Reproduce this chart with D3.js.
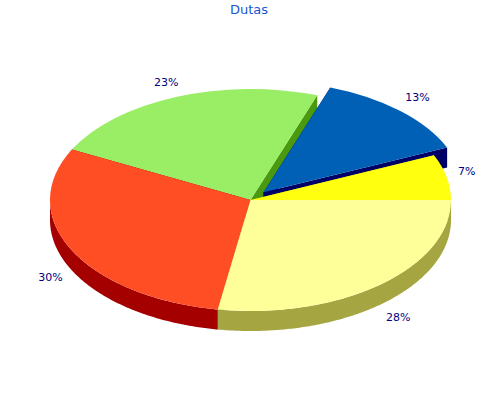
<!DOCTYPE html>
<html>
<head>
<meta charset="utf-8">
<script src="https://cdn.jsdelivr.net/npm/d3@7"></script>
<style>
  html, body { margin: 0; padding: 0; background: #fff; }
  svg { display: block; }
  text { font-family: "DejaVu Sans", sans-serif; }
</style>
</head>
<body>
<svg width="500" height="400"></svg>
<script>
const title = "Dutas";
const values = [6.6, 13.0, 22.9, 29.9, 27.6];
const labels = ["7%", "13%", "23%", "30%", "28%"];
const explode = [0, 0.096, 0, 0, 0]; // fraction of the radius

const topColors = ["#ffff0f", "#0060b6", "#99ee66", "#ff4d24", "#ffff99"];
const sideColors = ["#a5a50a", "#000066", "#4a990f", "#a50000", "#a5a542"];
const drawOrder = [2, 1, 0, 3, 4]; // back to front

const cx = 250.5, cy = 200, rx = 200.5, ry = 111, depth = 20;
const labelRx = 222, labelRy = 126, labelDrop = 22;
const labelNudge = [[-1, -3], [3, -3], [-2, -1], [-2, -2], [4, -1]];

const svg = d3.select("svg");

// d3 angles run clockwise from 12 o'clock, this pie runs anticlockwise from 3 o'clock
const slices = d3.pie().sort(null)
    .startAngle(Math.PI / 2)
    .endAngle(Math.PI / 2 - 2 * Math.PI)(values);

const arc = d3.arc().innerRadius(0).outerRadius(1);
const theta = a => Math.PI / 2 - a;
const px = t => rx * Math.cos(t);
const py = t => -ry * Math.sin(t);

const wall = d3.area()
    .x(px)
    .y0(py)
    .y1(t => py(t) + depth);

function edgeFace(t) {
  return d3.line()([[0, 0], [px(t), py(t)], [px(t), py(t) + depth], [0, depth]]) + "Z";
}

// the rim only shows on the front half of the ellipse
function rimAngles(t0, t1) {
  const from = Math.max(t0, Math.PI), to = Math.min(t1, 2 * Math.PI);
  if (from >= to) return null;
  return d3.range(from, to, 0.01).concat([to]);
}

drawOrder.forEach(i => {
  const s = slices[i];
  const t0 = theta(s.startAngle), t1 = theta(s.endAngle);
  const mid = (t0 + t1) / 2;
  const dx = px(mid) * explode[i], dy = py(mid) * explode[i];
  const g = svg.append("g").attr("transform", `translate(${cx + dx},${cy + dy})`);

  [t0, t1].forEach(t => {
    g.append("path").attr("d", edgeFace(t)).attr("fill", sideColors[i]);
  });
  const rim = rimAngles(t0, t1);
  if (rim) g.append("path").attr("d", wall(rim)).attr("fill", sideColors[i]);

  g.append("path")
    .attr("transform", `scale(${rx},${ry})`)
    .attr("d", arc(s))
    .attr("fill", topColors[i]);
});

svg.selectAll("text.pct")
  .data(slices)
  .join("text")
    .attr("class", "pct")
    .attr("x", (s, i) => {
      const mid = theta((s.startAngle + s.endAngle) / 2);
      return cx + px(mid) * explode[i] + labelRx * Math.cos(mid) + labelNudge[i][0];
    })
    .attr("y", (s, i) => {
      const mid = theta((s.startAngle + s.endAngle) / 2);
      const front = Math.sin(mid) < 0 ? labelDrop : 0;
      return cy + py(mid) * explode[i] - labelRy * Math.sin(mid) + front + labelNudge[i][1];
    })
    .attr("dy", "0.35em")
    .attr("text-anchor", "middle")
    .attr("font-size", 11)
    .attr("fill", "#000080")
    .text((s, i) => labels[i]);

svg.append("text")
    .attr("x", 249)
    .attr("y", 14)
    .attr("text-anchor", "middle")
    .attr("font-size", 13)
    .attr("fill", "#1a56d0")
    .text(title);
</script>
</body>
</html>
